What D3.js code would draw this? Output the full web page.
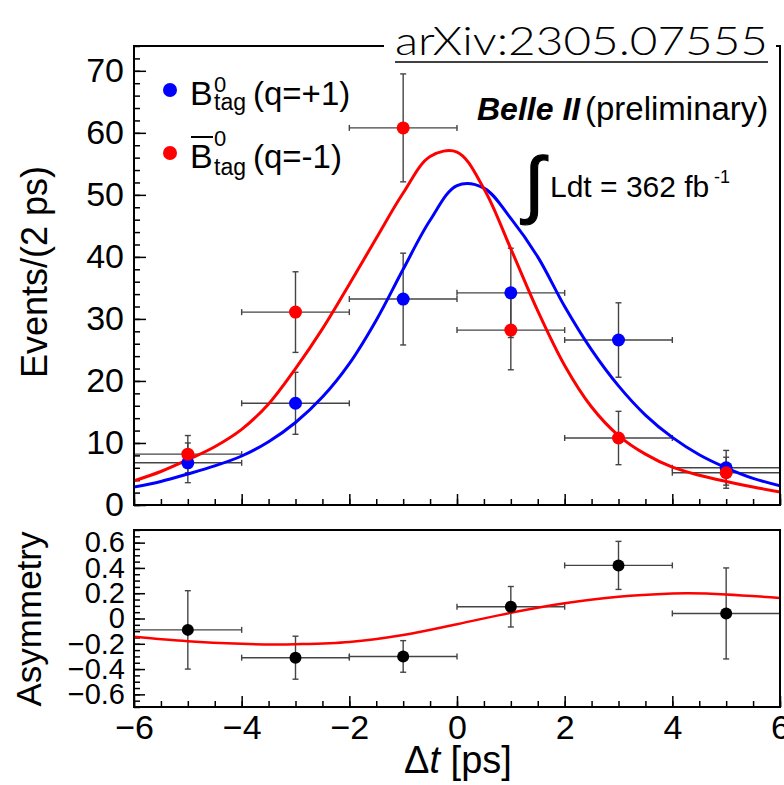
<!DOCTYPE html>
<html>
<head>
<meta charset="utf-8">
<script src="https://cdn.jsdelivr.net/npm/d3@7"></script>
<style>
	body { margin: 0; background: #fff; }
	svg text { font-family: "Liberation Sans", Arial, Helvetica, sans-serif; fill: #000; }
</style>
</head>
<body>
<div id="vizHolder"></div>
<script>
// bins (centre, half width in ps)
var binCenters = [-5, -3, -1, 1, 3, 5],
	binHalf = 1;

// B0 tag (q=+1)
var b0Counts = [6.8, 16.4, 33.2, 34.2, 26.6, 6.0],
	b0Err = [3.2, 5.0, 7.4, 7.2, 6.0, 2.8];

// B0bar tag (q=-1)
var b0barCounts = [8.2, 31.1, 60.8, 28.2, 10.8, 5.2],
	b0barErr = [3.0, 6.5, 8.7, 6.4, 4.3, 2.5];

// asymmetry
var asymValues = [-0.09, -0.31, -0.30, 0.093, 0.42, 0.04],
	asymErr = [0.31, 0.17, 0.125, 0.16, 0.19, 0.36];

// fit curves at these dt values
var fitT = [-6, -5.5, -5, -4.5, -4, -3.5, -3, -2.5, -2, -1.5, -1, -0.5, 0, 0.5, 1, 1.5, 2, 2.5, 3, 3.5, 4, 4.5, 5, 5.5, 6],
	fitB0 = [2.9, 3.8, 5.0, 6.3, 7.9, 10.2, 13.3, 17.4, 22.8, 29.8, 38.0, 45.9, 51.5, 51.1, 46.2, 40.0, 32.0, 25.0, 19.2, 14.5, 10.9, 8.1, 6.0, 4.3, 3.1],
	fitB0bar = [3.9, 5.4, 7.3, 9.4, 12.2, 16.3, 22.0, 28.4, 35.6, 43.0, 50.3, 56.2, 56.9, 51.0, 41.3, 31.3, 22.5, 15.8, 11.2, 8.2, 6.1, 4.8, 3.8, 2.9, 2.1];

var asymFitT = [-6, -5, -4, -3.4, -3, -2, -1, 0, 1, 2, 3, 4, 4.3, 5, 6],
	asymFit = [-0.145, -0.18, -0.20, -0.205, -0.203, -0.185, -0.13, -0.045, 0.045, 0.12, 0.172, 0.197, 0.199, 0.19, 0.162];

// ticks
var xTicks = [-6, -4, -2, 0, 2, 4, 6],
	yTicksTop = [0, 10, 20, 30, 40, 50, 60, 70],
	yTicksBottom = [-0.6, -0.4, -0.2, 0, 0.2, 0.4, 0.6];

var width = 784, height = 785,
	left = 134, right = 780,
	topY = 46, topBottom = 505,
	lowTop = 530, lowBottom = 707;

var svg = d3.select('#vizHolder')
	.append('svg')
	.attr('width', width)
	.attr('height', height);

var xScale = d3.scaleLinear().domain([-6, 6]).range([left, right]);
var yTop = d3.scaleLinear().domain([0, 74]).range([topBottom, topY]);
var yLow = d3.scaleLinear().domain([-0.7, 0.7]).range([lowBottom, lowTop]);

function minors(lo, hi, step) {
	var out = [];
	for (var v = lo; v <= hi + 1e-9; v += step) out.push(+v.toFixed(3));
	return out;
}

function styleAxis(g, size) {
	g.select('.domain').remove();
	g.selectAll('line').attr('stroke', '#000').attr('stroke-width', 1.5);
	g.attr('font-size', size).attr('font-family', '"Liberation Sans", Arial, sans-serif');
	g.selectAll('text').attr('fill', '#000');
}

var fmtLow = function(d) { return d === 0 ? '0' : d3.format('.1f')(d); };

//--- upper panel axes
svg.append('g').attr('transform', 'translate(' + left + ',0)')
	.call(d3.axisLeft(yTop).tickValues(minors(0, 74, 2)).tickSize(-6).tickFormat(''))
	.call(styleAxis, 34);
svg.append('g').attr('transform', 'translate(' + left + ',0)')
	.call(d3.axisLeft(yTop).tickValues(yTicksTop).tickSize(-12).tickPadding(10))
	.call(styleAxis, 34);
svg.append('g').attr('transform', 'translate(0,' + topBottom + ')')
	.call(d3.axisBottom(xScale).tickValues(minors(-6, 6, 0.5)).tickSize(-6).tickFormat(''))
	.call(styleAxis, 34);
svg.append('g').attr('transform', 'translate(0,' + topBottom + ')')
	.call(d3.axisBottom(xScale).tickValues(xTicks).tickSize(-11).tickFormat(''))
	.call(styleAxis, 34);

//--- lower panel axes
svg.append('g').attr('transform', 'translate(' + left + ',0)')
	.call(d3.axisLeft(yLow).tickValues(minors(-0.7, 0.7, 0.05)).tickSize(-6).tickFormat(''))
	.call(styleAxis, 29);
svg.append('g').attr('transform', 'translate(' + left + ',0)')
	.call(d3.axisLeft(yLow).tickValues(yTicksBottom).tickSize(-11).tickPadding(9).tickFormat(fmtLow))
	.call(styleAxis, 29);
svg.append('g').attr('transform', 'translate(0,' + lowBottom + ')')
	.call(d3.axisBottom(xScale).tickValues(minors(-6, 6, 0.5)).tickSize(-6).tickFormat(''))
	.call(styleAxis, 34);
svg.append('g').attr('transform', 'translate(0,' + lowBottom + ')')
	.call(d3.axisBottom(xScale).tickValues(xTicks).tickSize(-11).tickPadding(8))
	.call(styleAxis, 34);

// clip paths
svg.append('clipPath').attr('id', 'clipTop').append('rect')
	.attr('x', left).attr('y', topY).attr('width', right - left).attr('height', topBottom - topY);
svg.append('clipPath').attr('id', 'clipLow').append('rect')
	.attr('x', left).attr('y', lowTop).attr('width', right - left).attr('height', lowBottom - lowTop);

// error bars with small end caps
function errorBars(g, vals, errs, yScale, col) {
	var cap = 3;
	binCenters.forEach(function(c, i) {
		var xl = xScale(c - binHalf), xr = xScale(c + binHalf), xc = xScale(c),
			yc = yScale(vals[i]), yh = yScale(vals[i] + errs[i]), yl = yScale(vals[i] - errs[i]);
		var segs = [
			[xl, yc, xr, yc], [xc, yh, xc, yl],
			[xl, yc - cap, xl, yc + cap], [xr, yc - cap, xr, yc + cap],
			[xc - cap, yh, xc + cap, yh], [xc - cap, yl, xc + cap, yl]
		];
		g.selectAll(null).data(segs).enter().append('line')
			.attr('x1', function(d) { return d[0]; }).attr('y1', function(d) { return d[1]; })
			.attr('x2', function(d) { return d[2]; }).attr('y2', function(d) { return d[3]; })
			.attr('stroke', col).attr('stroke-width', 1.4);
	});
}

var upper = svg.append('g').attr('clip-path', 'url(#clipTop)');
errorBars(upper, b0Counts, b0Err, yTop, '#444');
errorBars(upper, b0barCounts, b0barErr, yTop, '#444');

var lineTop = function(vals) {
	return d3.line()
		.x(function(d, i) { return xScale(fitT[i]); })
		.y(function(d) { return yTop(d); })
		.curve(d3.curveCatmullRom)(vals);
};
upper.append('path').attr('d', lineTop(fitB0)).attr('fill', 'none').attr('stroke', '#0000ff').attr('stroke-width', 3);
upper.append('path').attr('d', lineTop(fitB0bar)).attr('fill', 'none').attr('stroke', '#ff0000').attr('stroke-width', 3);

upper.selectAll('.b0').data(b0Counts).enter().append('circle')
	.attr('cx', function(d, i) { return xScale(binCenters[i]); })
	.attr('cy', function(d) { return yTop(d); })
	.attr('r', 6.5).attr('fill', '#0000ff');
upper.selectAll('.b0bar').data(b0barCounts).enter().append('circle')
	.attr('cx', function(d, i) { return xScale(binCenters[i]); })
	.attr('cy', function(d) { return yTop(d); })
	.attr('r', 6.5).attr('fill', '#ff0000');

// lower panel
var lower = svg.append('g').attr('clip-path', 'url(#clipLow)');
errorBars(lower, asymValues, asymErr, yLow, '#444');
lower.append('path')
	.attr('d', d3.line()
		.x(function(d, i) { return xScale(asymFitT[i]); })
		.y(function(d) { return yLow(d); })
		.curve(d3.curveCatmullRom)(asymFit))
	.attr('fill', 'none').attr('stroke', '#ff0000').attr('stroke-width', 2.5);
lower.selectAll('.asym').data(asymValues).enter().append('circle')
	.attr('cx', function(d, i) { return xScale(binCenters[i]); })
	.attr('cy', function(d) { return yLow(d); })
	.attr('r', 6).attr('fill', '#000');

// frames
svg.append('rect').attr('x', left).attr('y', topY).attr('width', right - left).attr('height', topBottom - topY)
	.attr('fill', 'none').attr('stroke', '#000').attr('stroke-width', 2);
svg.append('rect').attr('x', left).attr('y', lowTop).attr('width', right - left).attr('height', lowBottom - lowTop)
	.attr('fill', 'none').attr('stroke', '#000').attr('stroke-width', 2);

// arXiv stamp over the top border
svg.append('rect').attr('x', 384).attr('y', 40).attr('width', 392).attr('height', 8).attr('fill', '#fff');
svg.append('text').attr('x', 395).attr('y', 55)
	.attr('font-size', 40).attr('font-weight', 300)
	.attr('textLength', 373).attr('lengthAdjust', 'spacingAndGlyphs')
	.style('font-family', 'Lato, Roboto, "Open Sans", sans-serif')
	.text('arXiv:2305.07555');
svg.append('line').attr('x1', 395).attr('x2', 768).attr('y1', 62).attr('y2', 62)
	.attr('stroke', '#000').attr('stroke-width', 1.5);

// axis titles
svg.append('text').attr('transform', 'translate(47,272) rotate(-90)')
	.attr('text-anchor', 'middle').attr('font-size', 36).text('Events/(2 ps)');
svg.append('text').attr('transform', 'translate(41,619) rotate(-90)')
	.attr('text-anchor', 'middle').attr('font-size', 35).text('Asymmetry');
var xt = svg.append('text').attr('x', 458).attr('y', 773).attr('text-anchor', 'middle').attr('font-size', 38);
xt.append('tspan').text('\u0394');
xt.append('tspan').attr('font-style', 'italic').text('t');
xt.append('tspan').text(' [ps]');

// legend
var legend = [
	{ col: '#0000ff', y: 105, sup: 92, sub: 110, q: '(q=+1)', bar: false },
	{ col: '#ff0000', y: 168, sup: 146, sub: 175, q: '(q=-1)', bar: true }
];
legend.forEach(function(l) {
	svg.append('circle').attr('cx', 170).attr('cy', l.y - 15).attr('r', 7).attr('fill', l.col);
	svg.append('text').attr('x', 190).attr('y', l.y).attr('font-size', 34).text('B');
	svg.append('text').attr('x', 214).attr('y', l.sup).attr('font-size', 22).text('0');
	svg.append('text').attr('x', 214).attr('y', l.sub).attr('font-size', 23).text('tag');
	svg.append('text').attr('x', 253).attr('y', l.y).attr('font-size', 33).text(l.q);
	if (l.bar) {
		svg.append('line').attr('x1', 191).attr('x2', 213).attr('y1', 137).attr('y2', 137)
			.attr('stroke', '#000').attr('stroke-width', 2);
	}
});

// experiment label and luminosity
svg.append('text').attr('x', 477).attr('y', 120).attr('font-size', 32)
	.attr('font-weight', 'bold').attr('font-style', 'italic').text('Belle II');
svg.append('text').attr('x', 585).attr('y', 120).attr('font-size', 33).text('(preliminary)');
svg.append('text').attr('x', 524).attr('y', 209).attr('font-size', 74)
	.attr('stroke', '#000').attr('stroke-width', 1.2).text('\u222B');
svg.append('text').attr('x', 550).attr('y', 197).attr('font-size', 30).text('Ldt = 362 fb');
svg.append('text').attr('x', 714).attr('y', 183).attr('font-size', 18).text('-1');
</script>
</body>
</html>
